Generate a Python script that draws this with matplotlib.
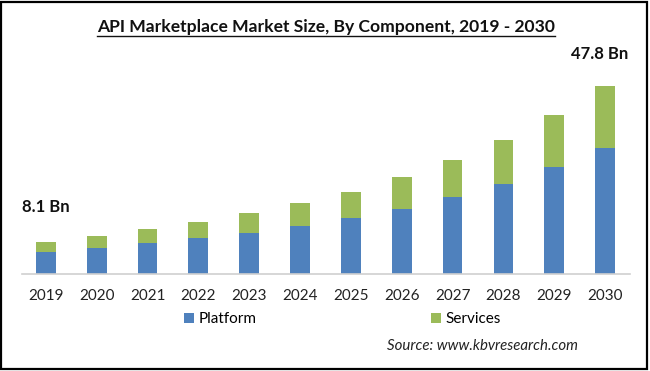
import numpy as np
import matplotlib.pyplot as plt
from matplotlib.patches import Rectangle
from matplotlib.lines import Line2D

plt.rcParams['font.family'] = ['Lato', 'DejaVu Sans']

years = ['2019', '2020', '2021', '2022', '2023', '2024',
         '2025', '2026', '2027', '2028', '2029', '2030']
platform = [5.47, 6.57, 7.76, 8.96, 10.38, 12.01, 14.13, 16.42, 19.55, 22.78, 27.03, 32.02]
services = [2.63, 3.05, 3.49, 4.14, 4.94, 5.86, 6.69, 8.06, 9.34, 11.27, 13.31, 15.78]
first_label = '8.1 Bn'
last_label = '47.8 Bn'

BLUE = '#4F81BD'
GREEN = '#9BBB59'

W, H = 650, 371
fig = plt.figure(figsize=(W / 100, H / 100), dpi=100)
ax = fig.add_axes([22 / W, 0.2628, (630 - 22) / W, 0.582])

x = np.arange(len(years))
ax.bar(x, platform, width=0.39, color=BLUE, label='Platform')
ax.bar(x, services, width=0.39, bottom=platform, color=GREEN, label='Services')

ax.set_xlim(-0.47, 11.49)
ax.set_ylim(0, 55)
ax.set_xticks(x)
ax.set_xticklabels(years, fontsize=11, color='#222222')
ax.tick_params(axis='x', length=0, pad=11)
ax.set_yticks([])
for s in ['top', 'right', 'left']:
    ax.spines[s].set_visible(False)
ax.spines['bottom'].set_color('#D0D0D0')
ax.spines['bottom'].set_linewidth(1.2)

totals = [p + s for p, s in zip(platform, services)]
ax.annotate(first_label, xy=(0, totals[0]), xytext=(-17.3, 25),
            textcoords='offset points', ha='left', va='center',
            fontsize=12, fontweight='bold', color='#111111')
ax.annotate(last_label, xy=(11, totals[-1]), xytext=(16.6, 23),
            textcoords='offset points', ha='right', va='center',
            fontsize=12, fontweight='bold', color='#111111')

# title with underline
title = fig.text(326 / W, 1 - 27 / H, 'API Marketplace Market Size, By Component, 2019 - 2030',
                 ha='center', va='center', fontsize=12.6, fontweight='bold', color='#111111')
fig.canvas.draw()
bb = title.get_window_extent(fig.canvas.get_renderer())
uy = (bb.y0 - 1) / H
fig.add_artist(Line2D([bb.x0 / W, bb.x1 / W], [uy, uy], color='#111111', lw=1.0))

fig.legend(loc='center', bbox_to_anchor=(342.5 / W, 1 - 319 / H), ncol=2,
           frameon=False, fontsize=11, handlelength=0.65, handleheight=0.65,
           handletextpad=0.3, columnspacing=11.45, borderpad=0)

fig.text(578 / W, 1 - 346 / H, 'Source: www.kbvresearch.com', ha='right', va='center',
         fontsize=10.8, style='italic', color='#222222')

fig.add_artist(Rectangle((1 / W, 2 / H), 646 / W, 367 / H, transform=fig.transFigure,
                         fill=False, edgecolor='black', lw=1.6))

fig.savefig('out.png', dpi=100)
